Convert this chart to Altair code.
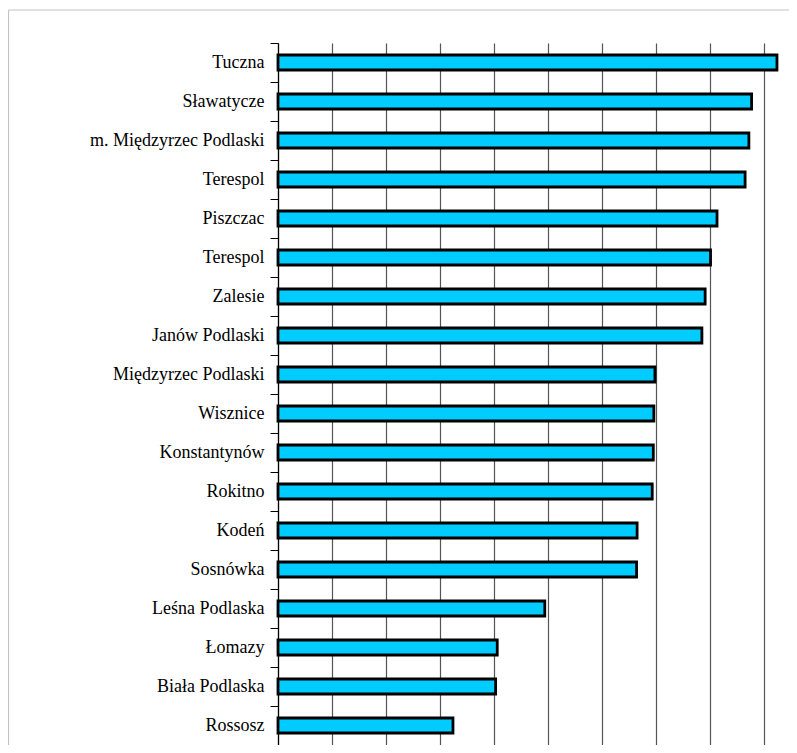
import altair as alt
import pandas as pd

gminy = ["Tuczna", "Sławatycze", "m. Międzyrzec Podlaski", "Terespol", "Piszczac",
         "Terespol ", "Zalesie", "Janów Podlaski", "Międzyrzec Podlaski", "Wisznice",
         "Konstantynów", "Rokitno", "Kodeń", "Sosnówka", "Leśna Podlaska", "Łomazy",
         "Biała Podlaska", "Rossosz"]
wartosci = [9.24, 8.77, 8.72, 8.65, 8.13, 8.01, 7.91, 7.85, 6.98, 6.96,
            6.95, 6.93, 6.65, 6.64, 4.94, 4.06, 4.03, 3.24]
siatka = [0, 1, 2, 3, 4, 5, 6, 7, 8, 9]

df = pd.DataFrame({"gmina": gminy, "wartosc": wartosci})

W, H = 511, 702

bars = alt.Chart(df).mark_bar(
    height=15, color="#00CCFF", stroke="#000000", strokeWidth=2.8
).encode(
    x=alt.X("wartosc:Q",
            scale=alt.Scale(domain=[0, W / 54], nice=False, zero=True),
            axis=alt.Axis(values=siatka, grid=True, gridColor="#555555", gridWidth=1.2,
                          labels=False, ticks=False, domain=False, title=None)),
    y=alt.Y("gmina:N", sort=None,
            scale=alt.Scale(paddingInner=0, paddingOuter=0),
            axis=alt.Axis(title=None, tickBand="extent", tickSize=8, tickColor="#000000",
                          tickWidth=1, domainColor="#000000", domainWidth=1.2,
                          labelFont="Liberation Serif", labelFontSize=18,
                          labelColor="#000000", labelPadding=6, grid=False)),
)

one = pd.DataFrame({"k": [0]})
top_border = alt.Chart(one).mark_rule(color="#c4c4c4", strokeWidth=1.2).encode(
    x=alt.value(-269.5), x2=alt.value(W + 10), y=alt.value(-33))
left_border = alt.Chart(one).mark_rule(color="#c4c4c4", strokeWidth=1.2).encode(
    x=alt.value(-269.5), y=alt.value(-33), y2=alt.value(H + 10))

chart = alt.layer(top_border, left_border, bars).properties(
    width=W, height=H,
    autosize="none",
    padding={"left": 270, "top": 35, "right": 0, "bottom": 0},
).configure_view(stroke=None)

chart.save("out.html", embed_options={"renderer": "svg", "actions": False})
